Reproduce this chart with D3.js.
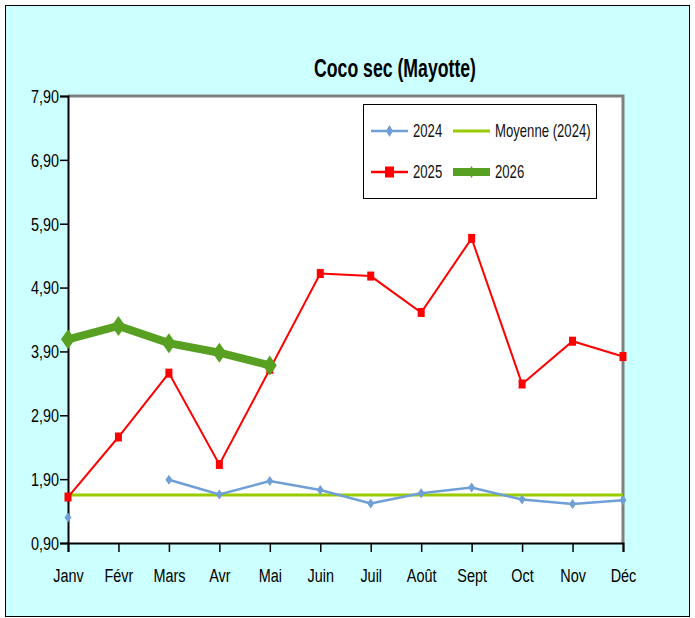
<!DOCTYPE html>
<html>
<head>
<meta charset="utf-8">
<style>
body { margin: 0; background: #fff; }
text { font-family: "Liberation Sans", Arial, sans-serif; }
</style>
</head>
<body>
<svg id="chart" width="695" height="618"></svg>
<script src="https://d3js.org/d3.v7.min.js"></script>
<script>
var months = ['Janv', 'Févr', 'Mars', 'Avr', 'Mai', 'Juin', 'Juil', 'Août', 'Sept', 'Oct', 'Nov', 'Déc'];
var yTicks = [0.9, 1.9, 2.9, 3.9, 4.9, 5.9, 6.9, 7.9];
var v2024 = [1.30, null, 1.89, 1.66, 1.87, 1.73, 1.52, 1.68, 1.77, 1.58, 1.51, 1.57];
var v2025 = [1.62, 2.56, 3.56, 2.13, 3.62, 5.12, 5.08, 4.51, 5.67, 3.39, 4.06, 3.82];
var v2026 = [4.09, 4.30, 4.03, 3.88, 3.68, null, null, null, null, null, null, null];
var moyenne2024 = 1.65;

var svg = d3.select('#chart');
var pLeft = 68, pRight = 623, pTop = 96, pBottom = 543;

// narrow font look: squeeze text horizontally around its anchor
var narrow = function (sel, s) {
    sel.each(function () {
        var t = d3.select(this);
        var tx = +t.attr('x') || 0, ty = +t.attr('y') || 0;
        t.attr('x', 0).attr('y', 0)
            .attr('transform', 'translate(' + tx + ',' + ty + ') scale(' + s + ',1)');
    });
};

svg.append('rect').attr('x', 5.5).attr('y', 5.5).attr('width', 684).attr('height', 611)
    .attr('fill', '#ccffff').attr('stroke', '#000').attr('stroke-width', 1);

var x = d3.scalePoint().domain(months).range([pLeft, pRight]).padding(0);
var y = d3.scaleLinear().domain([0.9, 7.9]).range([pBottom, pTop]);

// plot area
svg.append('rect').attr('x', pLeft).attr('y', pTop).attr('width', pRight - pLeft).attr('height', pBottom - pTop)
    .attr('fill', '#fff');
svg.append('path').attr('d', 'M' + pLeft + ',' + pTop + 'H' + pRight + 'V' + pBottom)
    .attr('fill', 'none').attr('stroke', '#808080').attr('stroke-width', 3);

svg.append('text').attr('x', 395).attr('y', 77).attr('text-anchor', 'middle')
    .attr('font-size', 26).attr('font-weight', 'bold').text('Coco sec (Mayotte)')
    .call(narrow, 0.68);

var yAxis = svg.append('g').attr('transform', 'translate(' + pLeft + ',0)')
    .call(d3.axisLeft(y).tickValues(yTicks).tickSize(8).tickPadding(1)
        .tickFormat(function (d) { return d3.format('.2f')(d).replace('.', ','); }));
var xAxis = svg.append('g').attr('transform', 'translate(0,' + pBottom + ')')
    .call(d3.axisBottom(x).tickSize(9).tickPadding(17));
[xAxis, yAxis].forEach(function (g) {
    g.select('.domain').attr('stroke', '#000').attr('stroke-width', 2);
    g.selectAll('.tick line').attr('stroke', '#000').attr('stroke-width', 1.5);
    g.selectAll('.tick text').attr('fill', '#000')
        .style('font-family', '"Liberation Sans", Arial, sans-serif');
});
xAxis.selectAll('.tick text').attr('font-size', 19).attr('dy', '0.71em').call(narrow, 0.76);
yAxis.selectAll('.tick text').attr('font-size', 18).attr('dy', '0.35em').call(narrow, 0.8);

var line = d3.line()
    .defined(function (d) { return d != null; })
    .x(function (d, i) { return x(months[i]); })
    .y(function (d) { return y(d); });

var diamond = function (cx, cy, w, h) {
    return 'M' + cx + ',' + (cy - h) + 'L' + (cx + w) + ',' + cy + 'L' + cx + ',' + (cy + h) + 'L' + (cx - w) + ',' + cy + 'Z';
};

// moyenne
svg.append('line').attr('x1', pLeft).attr('x2', pRight).attr('y1', y(moyenne2024)).attr('y2', y(moyenne2024))
    .attr('stroke', '#99cc00').attr('stroke-width', 3);

// 2024
svg.append('path').datum(v2024).attr('d', line).attr('fill', 'none')
    .attr('stroke', '#6f9fd5').attr('stroke-width', 2.5);
v2024.forEach(function (d, i) {
    if (d == null) return;
    svg.append('path').attr('d', diamond(x(months[i]), y(d), 3.5, 5)).attr('fill', '#6f9fd5');
});

// 2025
svg.append('path').datum(v2025).attr('d', line).attr('fill', 'none')
    .attr('stroke', '#ff0000').attr('stroke-width', 2);
v2025.forEach(function (d, i) {
    svg.append('rect').attr('x', x(months[i]) - 3.5).attr('y', y(d) - 4.5).attr('width', 7).attr('height', 9)
        .attr('fill', '#ff0000');
});

// 2026
svg.append('path').datum(v2026).attr('d', line).attr('fill', 'none')
    .attr('stroke', '#58a021').attr('stroke-width', 8);
v2026.forEach(function (d, i) {
    if (d == null) return;
    svg.append('path').attr('d', diamond(x(months[i]), y(d), 7, 10)).attr('fill', '#58a021');
});

// legend
var lg = svg.append('g');
lg.append('rect').attr('x', 363.5).attr('y', 104.5).attr('width', 233).attr('height', 94)
    .attr('fill', '#fff').attr('stroke', '#000');
var items = [
    { name: '2024', x: 371, y: 131, color: '#6f9fd5', w: 2.5, mark: 'diamondS' },
    { name: 'Moyenne (2024)', x: 453, y: 131, color: '#99cc00', w: 3, mark: null },
    { name: '2025', x: 371, y: 172, color: '#ff0000', w: 2.5, mark: 'square' },
    { name: '2026', x: 453, y: 172, color: '#58a021', w: 8, mark: 'diamondS' }
];
items.forEach(function (it) {
    lg.append('line').attr('x1', it.x).attr('x2', it.x + 37).attr('y1', it.y).attr('y2', it.y)
        .attr('stroke', it.color).attr('stroke-width', it.w);
    var cx = it.x + 18.5;
    if (it.mark === 'diamondS') lg.append('path').attr('d', diamond(cx, it.y, 3.5, 6)).attr('fill', it.color);
    if (it.mark === 'square') lg.append('rect').attr('x', cx - 4.5).attr('y', it.y - 5.5).attr('width', 9).attr('height', 11).attr('fill', it.color);
    lg.append('text').attr('x', it.x + 42).attr('y', it.y + 6).attr('font-size', 18).attr('fill', '#111')
        .text(it.name).call(narrow, 0.73);
});
</script>
</body>
</html>
